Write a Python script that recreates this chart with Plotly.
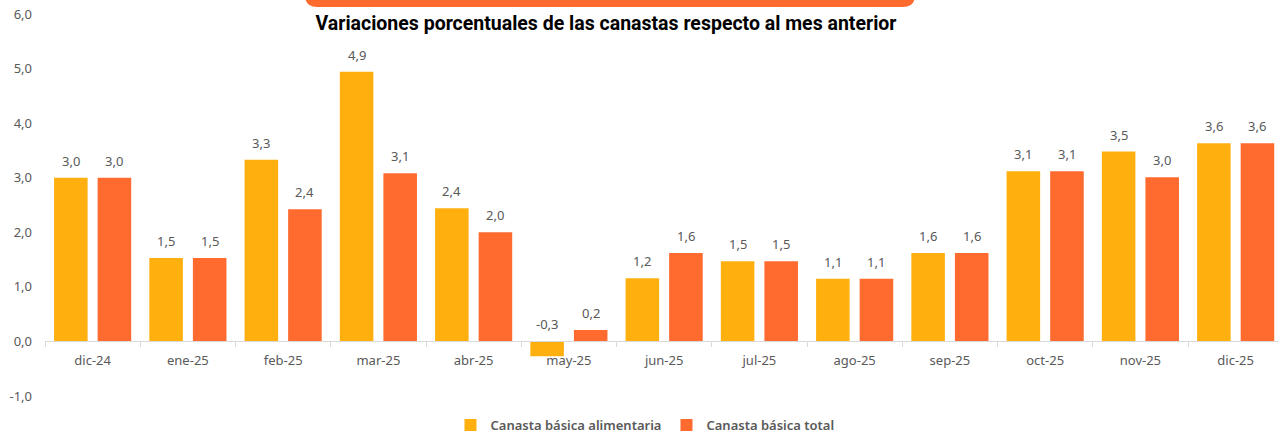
import plotly.graph_objects as go

categories = ["dic-24", "ene-25", "feb-25", "mar-25", "abr-25", "may-25", "jun-25",
              "jul-25", "ago-25", "sep-25", "oct-25", "nov-25", "dic-25"]
alimentaria = [3.0, 1.53, 3.33, 4.94, 2.44, -0.27, 1.16, 1.47, 1.15, 1.62, 3.12, 3.48, 3.63]
total = [3.0, 1.53, 2.42, 3.08, 2.0, 0.21, 1.62, 1.47, 1.15, 1.62, 3.12, 3.01, 3.63]
y_ticks = [-1, 0, 1, 2, 3, 4, 5, 6]
series_names = ["Canasta básica alimentaria", "Canasta básica total"]
title_text = "Variaciones porcentuales de las canastas respecto al mes anterior"

YELLOW = "#FFB00F"
ORANGE = "#FF6A2F"
GRAY = "#595959"
FONT = "Noto Sans"

W, H = 1279, 434
ML = 45
PT, PB = 14, 396  # plot top / bottom pixel rows
plot_w = W - ML
x_range = [-0.5, 12.455]
cat_px = plot_w / (x_range[1] - x_range[0])
bargap = 0.085
slot_px = cat_px * (1 - bargap) / 2

def fmt(v):
    return f"{v:.1f}".replace(".", ",")

fig = go.Figure()
for name, vals, col in [(series_names[0], alimentaria, YELLOW), (series_names[1], total, ORANGE)]:
    fig.add_trace(go.Bar(x=categories, y=vals, name=name, marker=dict(color=col, line=dict(width=0))))

for sign, vals in [(-1, alimentaria), (1, total)]:
    for c, v in zip(categories, vals):
        fig.add_annotation(x=c, y=max(v, 0), xref="x", yref="y", text=fmt(v), showarrow=False,
                           xshift=sign * slot_px / 2, yshift=6, yanchor="bottom",
                           font=dict(family=FONT, size=13, color=GRAY))

def py(pix):
    return (H - pix) / H

def px(pix):
    return (pix - ML) / plot_w

# orange header band (cut off at top)
x0p, x1p = px(305), px(915)
ytop = py(-20)
ybot = py(7)
rx, ry = 12 / plot_w, 12 / H
path = (f"M {x0p} {ytop} L {x0p} {ybot + ry} Q {x0p} {ybot} {x0p + rx} {ybot} "
        f"L {x1p - rx} {ybot} Q {x1p} {ybot} {x1p} {ybot + ry} L {x1p} {ytop} Z")
fig.add_shape(type="path", path=path, xref="paper", yref="paper",
              fillcolor=ORANGE, line=dict(width=0), layer="above")

fig.update_layout(
    width=W, height=H,
    margin=dict(l=ML, r=0, t=0, b=0, autoexpand=False),
    paper_bgcolor="white", plot_bgcolor="white",
    barmode="group", bargap=bargap, bargroupgap=0.23,
    separators=",.",
    font=dict(family=FONT, color=GRAY, size=13),
    title=dict(text=f"<b>{title_text}</b>", x=606 / W, xanchor="center", y=1 - 23 / H, yanchor="middle",
               font=dict(family="Roboto", size=19.5, color="black")),
    showlegend=True,
    legend=dict(orientation="h", x=px(645), xanchor="center", y=py(425),
                yanchor="middle", font=dict(family=FONT, size=13, color=GRAY, weight=600),
                bgcolor="rgba(0,0,0,0)"),
    xaxis=dict(type="category", range=x_range, anchor="free", position=py(341),
               showline=True, linecolor="#D9D9D9", linewidth=1, automargin=False,
               ticks="outside", tickson="boundaries", ticklen=5, tickcolor="#D9D9D9",
               ticklabelstandoff=7,
               showgrid=False, zeroline=False, tickfont=dict(family=FONT, size=13, color=GRAY)),
    yaxis=dict(range=[-1, 6], tickmode="array", tickvals=y_ticks, ticktext=[fmt(t) for t in y_ticks],
               showgrid=False, zeroline=False,
               domain=[py(PB), py(PT)], automargin=False, ticklabelstandoff=12,
               showline=False, ticks="", tickfont=dict(family=FONT, size=13, color=GRAY)),
)

fig.write_html("out.html", config={"displayModeBar": False},
               post_script="document.body.style.margin='0';document.body.style.overflow='hidden';")
